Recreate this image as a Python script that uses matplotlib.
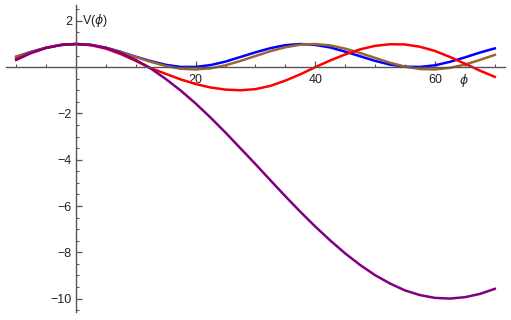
import numpy as np
import matplotlib
matplotlib.use("Agg")
import matplotlib.pyplot as plt

# values, phi from -10 to 70 in steps of 2.5
phi = [-10, -7.5, -5, -2.5, 0, 2.5, 5, 7.5, 10, 12.5, 15, 17.5, 20, 22.5, 25, 27.5,
       30, 32.5, 35, 37.5, 40, 42.5, 45, 47.5, 50, 52.5, 55, 57.5, 60, 62.5, 65, 67.5, 70]

v_blue = [0.45, 0.66, 0.84, 0.96, 1.00, 0.96, 0.84, 0.66, 0.45, 0.26, 0.10, 0.01, 0.01,
          0.09, 0.24, 0.44, 0.64, 0.82, 0.95, 1.00, 0.96, 0.85, 0.67, 0.47, 0.27, 0.11,
          0.02, 0.01, 0.08, 0.23, 0.42, 0.63, 0.81]
v_brown = [0.44, 0.65, 0.84, 0.96, 1.00, 0.96, 0.84, 0.65, 0.44, 0.23, 0.05, -0.07, -0.10,
           -0.05, 0.08, 0.27, 0.48, 0.69, 0.86, 0.97, 1.00, 0.94, 0.80, 0.61, 0.40, 0.19,
           0.02, -0.08, -0.10, -0.03, 0.11, 0.31, 0.53]
v_red = [0.36, 0.62, 0.83, 0.96, 1.00, 0.95, 0.80, 0.56, 0.27, -0.04, -0.29, -0.53, -0.73,
         -0.88, -0.97, -1.00, -0.95, -0.81, -0.58, -0.31, 0.00, 0.29, 0.55, 0.77, 0.92, 0.99,
         0.98, 0.88, 0.70, 0.44, 0.15, -0.15, -0.42]
v_purple = [0.31, 0.61, 0.83, 0.96, 1.00, 0.96, 0.83, 0.61, 0.31, -0.06, -0.51, -1.01, -1.57,
            -2.18, -2.83, -3.51, -4.19, -4.89, -5.58, -6.25, -6.89, -7.49, -8.05, -8.55,
            -8.99, -9.35, -9.65, -9.85, -9.97, -10.00, -9.94, -9.80, -9.58]

x_major = [20, 40, 60]
y_major = [-10, -8, -6, -4, -2, 2]

plt.rcParams['font.family'] = ['Liberation Sans', 'DejaVu Sans']
plt.rcParams['mathtext.fontset'] = 'dejavusans'

fig = plt.figure(figsize=(5.11, 3.2), dpi=100)
ax = fig.add_axes([0.0117, 0.025, 0.9765, 0.959])

ax.plot(phi, v_blue, color=(0, 0, 1), lw=1.8)
ax.plot(phi, v_brown, color=(0.6, 0.4, 0.2), lw=1.8)
ax.plot(phi, v_red, color=(1, 0, 0), lw=1.8)
ax.plot(phi, v_purple, color=(0.5, 0, 0.5), lw=1.8)

ax.set_xlim(-11.7, 71.7)
ax.set_ylim(-10.58, 2.68)

for s in ['top', 'right']:
    ax.spines[s].set_visible(False)
ax.spines['left'].set_position(('data', 0))
ax.spines['bottom'].set_position(('data', 0))
for s in ['left', 'bottom']:
    ax.spines[s].set_color('#555555')
    ax.spines[s].set_linewidth(1.0)

ax.set_xticks(x_major)
ax.set_xticks([t for t in np.arange(-10, 71, 5) if t not in x_major and t != 0], minor=True)
ax.set_yticks(y_major)
ax.set_yticks([t for t in np.arange(-10.5, 2.6, 0.5) if t not in y_major and t != 0], minor=True)

ax.tick_params(which='both', direction='in', color='#555555', labelsize=9, labelcolor='#222222')
ax.tick_params(which='major', length=4.5, width=0.9)
ax.tick_params(which='minor', length=2.5, width=0.8)
ax.tick_params(axis='x', pad=5)
ax.tick_params(axis='y', pad=3)

ax.text(1.0, 2.0, r'V($\phi$)', ha='left', va='center', fontsize=9, color='#222222')
ax.text(64.9, -0.56, r'$\phi$', ha='center', va='center', fontsize=9, color='#222222')

fig.savefig('out.png', dpi=100)
